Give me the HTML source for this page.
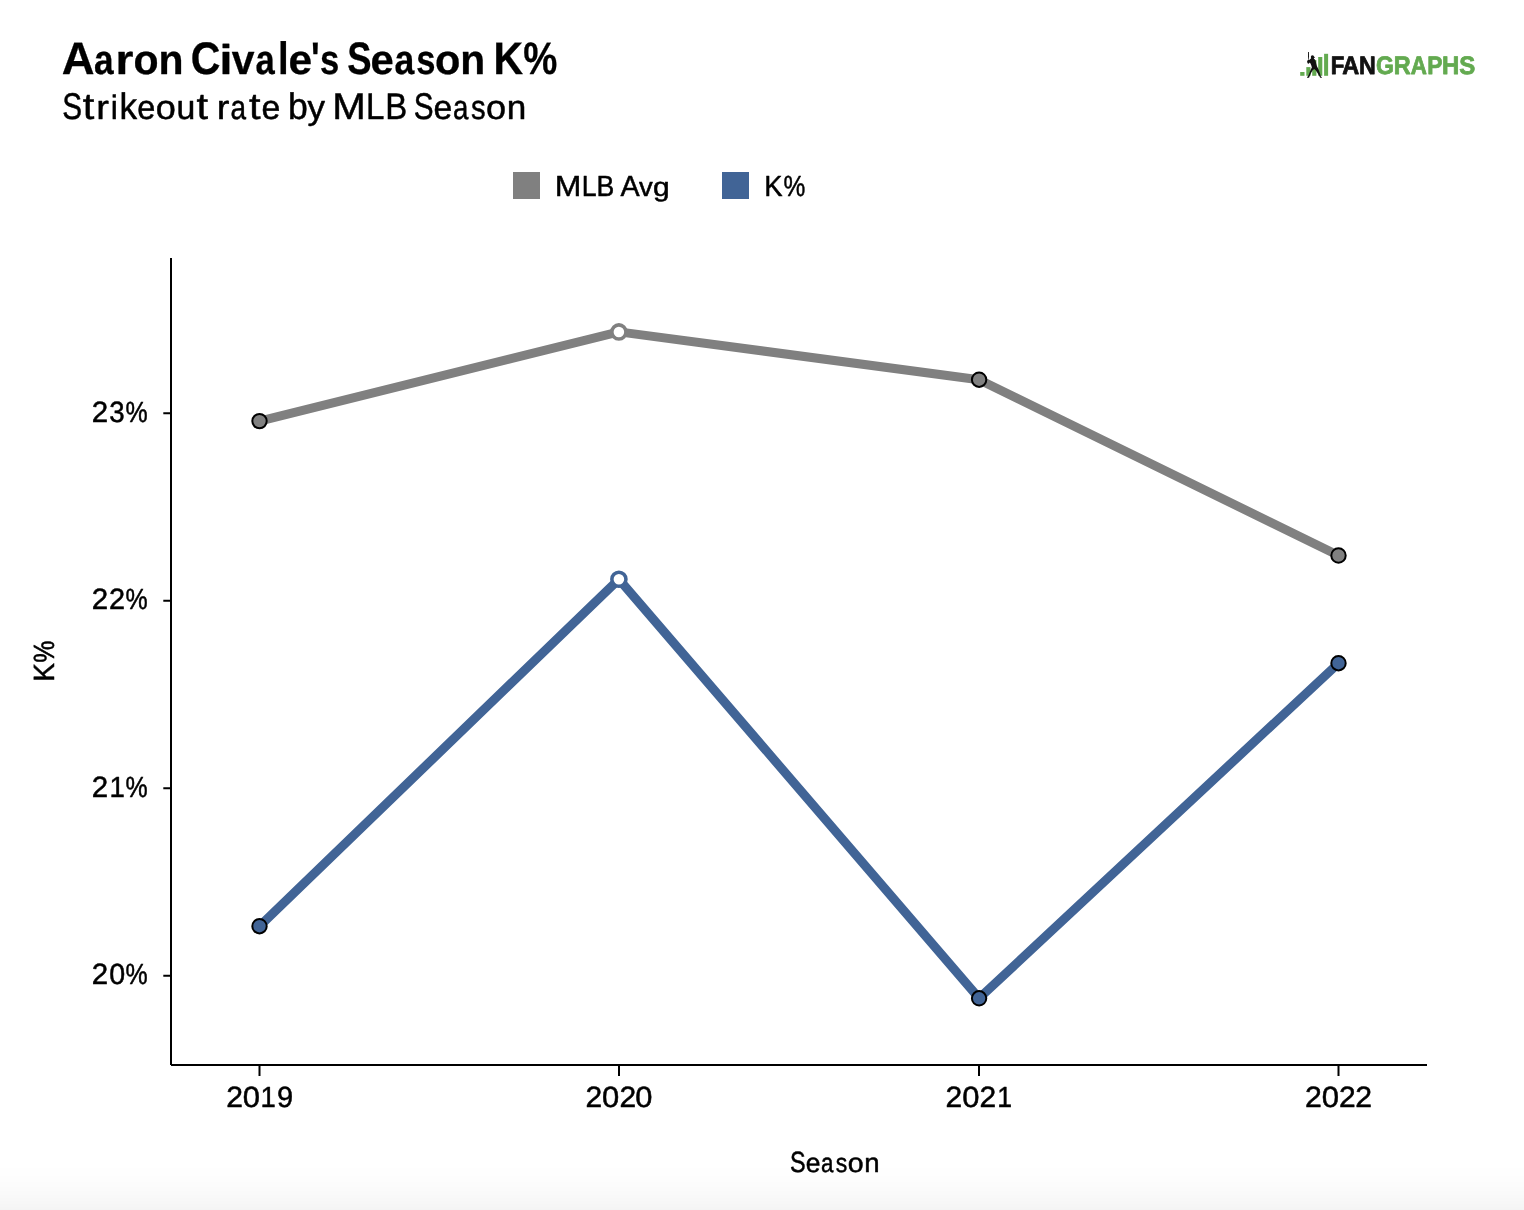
<!DOCTYPE html>
<html lang="en">
<head>
<meta charset="utf-8">
<title>Aaron Civale's Season K%</title>
<style>
  html, body { margin: 0; padding: 0; background: #fff; }
  body { width: 1524px; height: 1210px; overflow: hidden; position: relative;
         font-family: "Liberation Sans", sans-serif; }
  svg { position: absolute; left: 0; top: 0; display: block; }
  text { font-family: "Liberation Sans", sans-serif; text-rendering: geometricPrecision;
         fill: #000; stroke: #000; stroke-width: 0.5px; stroke-linejoin: round; }
  .b { font-weight: bold; stroke-width: 0.3px; }
  .lg { font-weight: bold; stroke-width: 0.8px; }
  .fade { position: absolute; left: 0; top: 1160px; width: 1524px; height: 50px;
          background: linear-gradient(to bottom, #ffffff 0px 8px, #fefefe 8px 16px, #fdfdfd 16px 22px, #fcfcfc 22px 27px, #fbfbfb 27px 31px, #fafafa 31px 35px, #f9f9f9 35px 38px, #f8f8f8 38px 41px, #f7f7f7 41px 44px, #f6f6f6 44px 47px, #f5f5f5 47px 49px, #f4f4f4 49px 50px); }
</style>
</head>
<body>
<div class="fade"></div>
<svg width="1524" height="1210" viewBox="0 0 1524 1210">
  <!-- titles -->
  <text id="title" class="b" y="74" font-size="45.5"><tspan x="61.64" textLength="32.80" lengthAdjust="spacingAndGlyphs">A</tspan><tspan x="94.10" font-size="41.63" textLength="19.60" lengthAdjust="spacingAndGlyphs">a</tspan><tspan x="115.60" font-size="41.63" textLength="17.94" lengthAdjust="spacingAndGlyphs">r</tspan><tspan x="133.49" font-size="41.63" textLength="25.10" lengthAdjust="spacingAndGlyphs">o</tspan><tspan x="158.40" font-size="41.63" textLength="25.05" lengthAdjust="spacingAndGlyphs">n</tspan> <tspan x="190.71" textLength="29.69" lengthAdjust="spacingAndGlyphs">C</tspan><tspan x="219.46" font-size="41.63" textLength="12.95" lengthAdjust="spacingAndGlyphs">i</tspan><tspan x="231.87" font-size="41.63" textLength="22.73" lengthAdjust="spacingAndGlyphs">v</tspan><tspan x="255.39" font-size="41.63" textLength="19.25" lengthAdjust="spacingAndGlyphs">a</tspan><tspan x="277.95" textLength="10.65" lengthAdjust="spacingAndGlyphs">l</tspan><tspan x="288.61" font-size="41.63" textLength="23.64" lengthAdjust="spacingAndGlyphs">e</tspan><tspan x="311.09" textLength="8.66" lengthAdjust="spacingAndGlyphs">'</tspan><tspan x="320.06" font-size="41.63" textLength="19.24" lengthAdjust="spacingAndGlyphs">s</tspan> <tspan x="347.13" textLength="24.28" lengthAdjust="spacingAndGlyphs">S</tspan><tspan x="370.51" font-size="41.63" textLength="23.26" lengthAdjust="spacingAndGlyphs">e</tspan><tspan x="394.39" font-size="41.63" textLength="19.84" lengthAdjust="spacingAndGlyphs">a</tspan><tspan x="416.16" font-size="41.63" textLength="19.23" lengthAdjust="spacingAndGlyphs">s</tspan><tspan x="434.99" font-size="41.63" textLength="25.36" lengthAdjust="spacingAndGlyphs">o</tspan><tspan x="460.20" font-size="41.63" textLength="24.94" lengthAdjust="spacingAndGlyphs">n</tspan> <tspan x="493.40" textLength="29.63" lengthAdjust="spacingAndGlyphs">K</tspan><tspan x="523.30" textLength="34.12" lengthAdjust="spacingAndGlyphs">%</tspan></text>
  <text id="subtitle" y="118.55" font-size="37.1"><tspan x="62.32" textLength="19.80" lengthAdjust="spacingAndGlyphs">S</tspan><tspan x="82.68" textLength="11.55" lengthAdjust="spacingAndGlyphs">t</tspan><tspan x="96.18" font-size="33.95" textLength="12.66" lengthAdjust="spacingAndGlyphs">r</tspan><tspan x="110.81" font-size="33.95" textLength="7.11" lengthAdjust="spacingAndGlyphs">i</tspan><tspan x="119.38" textLength="17.58" lengthAdjust="spacingAndGlyphs">k</tspan><tspan x="137.31" font-size="33.95" textLength="18.07" lengthAdjust="spacingAndGlyphs">e</tspan><tspan x="155.69" font-size="33.95" textLength="20.06" lengthAdjust="spacingAndGlyphs">o</tspan><tspan x="176.42" font-size="33.95" textLength="18.81" lengthAdjust="spacingAndGlyphs">u</tspan><tspan x="196.48" textLength="11.55" lengthAdjust="spacingAndGlyphs">t</tspan> <tspan x="216.72" font-size="33.95" textLength="12.66" lengthAdjust="spacingAndGlyphs">r</tspan><tspan x="230.47" font-size="33.95" textLength="15.53" lengthAdjust="spacingAndGlyphs">a</tspan><tspan x="249.09" textLength="11.55" lengthAdjust="spacingAndGlyphs">t</tspan><tspan x="261.46" font-size="33.95" textLength="18.80" lengthAdjust="spacingAndGlyphs">e</tspan> <tspan x="287.96" textLength="19.80" lengthAdjust="spacingAndGlyphs">b</tspan><tspan x="307.56" font-size="33.95" textLength="17.46" lengthAdjust="spacingAndGlyphs">y</tspan> <tspan x="332.22" textLength="33.49" lengthAdjust="spacingAndGlyphs">M</tspan><tspan x="365.95" textLength="18.40" lengthAdjust="spacingAndGlyphs">L</tspan><tspan x="385.36" textLength="21.95" lengthAdjust="spacingAndGlyphs">B</tspan> <tspan x="413.76" textLength="19.80" lengthAdjust="spacingAndGlyphs">S</tspan><tspan x="433.54" font-size="33.95" textLength="18.72" lengthAdjust="spacingAndGlyphs">e</tspan><tspan x="452.95" font-size="33.95" textLength="15.35" lengthAdjust="spacingAndGlyphs">a</tspan><tspan x="470.92" font-size="33.95" textLength="14.62" lengthAdjust="spacingAndGlyphs">s</tspan><tspan x="486.04" font-size="33.95" textLength="20.08" lengthAdjust="spacingAndGlyphs">o</tspan><tspan x="506.75" font-size="33.95" textLength="19.52" lengthAdjust="spacingAndGlyphs">n</tspan></text>

  <!-- logo -->
  <g id="logo">
    <rect x="1300.2" y="72" width="4.3" height="3.8" fill="#63aa50"/>
    <rect x="1306.3" y="67.1" width="4.2" height="8.7" fill="#63aa50"/>
    <rect x="1312.2" y="60.1" width="4.2" height="15.7" fill="#63aa50"/>
    <rect x="1318.2" y="57" width="4.1" height="18.8" fill="#63aa50"/>
    <rect x="1324.1" y="53.8" width="4" height="22" fill="#63aa50"/>
    <g transform="translate(1296 48) scale(0.028105)" fill="#111">
      <path d="M428,140 L458,140 L462,300 L453,420 L433,420 L428,300 Z"/>
      <circle cx="585" cy="316" r="58"/>
      <path d="M620,295 L678,325 L662,348 L620,348 Z"/>
      <path d="M545,340 L635,340 L640,400 L530,400 Z"/>
      <path d="M530,370 L500,400 L470,430 L440,420 L400,450 L395,500 L420,555 L450,560 L490,520 L520,560 L545,620 L565,690 L540,740 L500,830 L460,930 L430,1000 L390,1045 L395,1060 L465,1058 L480,1010 L540,880 L600,780 L650,745 L700,790 L770,900 L830,1000 L855,1050 L870,1062 L925,1058 L920,1040 L885,1010 L850,900 L800,760 L745,650 L720,560 L700,470 L680,420 L640,380 Z"/>
    </g>
    <text id="logotext" class="lg" y="73.6" font-size="25.3"><tspan style="fill:#111;stroke:#111"><tspan x="1330.65" textLength="13.61" lengthAdjust="spacingAndGlyphs">F</tspan><tspan x="1342.13" textLength="16.95" lengthAdjust="spacingAndGlyphs">A</tspan><tspan x="1359.10" textLength="16.82" lengthAdjust="spacingAndGlyphs">N</tspan></tspan><tspan style="fill:#63aa50;stroke:#63aa50"><tspan x="1375.98" textLength="17.95" lengthAdjust="spacingAndGlyphs">G</tspan><tspan x="1393.79" textLength="16.96" lengthAdjust="spacingAndGlyphs">R</tspan><tspan x="1410.84" textLength="16.14" lengthAdjust="spacingAndGlyphs">A</tspan><tspan x="1427.13" textLength="15.17" lengthAdjust="spacingAndGlyphs">P</tspan><tspan x="1441.97" textLength="17.29" lengthAdjust="spacingAndGlyphs">H</tspan><tspan x="1459.21" textLength="16.03" lengthAdjust="spacingAndGlyphs">S</tspan></tspan></text>
  </g>

  <!-- legend -->
  <rect x="513" y="172" width="27" height="27" fill="#808080"/>
  <text id="leg1" y="196.25" font-size="29.25"><tspan x="554.70" textLength="26.58" lengthAdjust="spacingAndGlyphs">M</tspan><tspan x="581.70" textLength="14.86" lengthAdjust="spacingAndGlyphs">L</tspan><tspan x="596.46" textLength="17.79" lengthAdjust="spacingAndGlyphs">B</tspan> <tspan x="620.40" textLength="19.17" lengthAdjust="spacingAndGlyphs">A</tspan><tspan x="639.00" font-size="26.76" textLength="13.75" lengthAdjust="spacingAndGlyphs">v</tspan><tspan x="652.91" font-size="26.76" textLength="16.67" lengthAdjust="spacingAndGlyphs">g</tspan></text>
  <rect x="722" y="172" width="27" height="27" fill="#416496"/>
  <text id="leg2" y="196.25" font-size="29.25"><tspan x="764.29" textLength="18.31" lengthAdjust="spacingAndGlyphs">K</tspan><tspan x="783.55" textLength="21.78" lengthAdjust="spacingAndGlyphs">%</tspan></text>

  <!-- axes -->
  <g stroke="#000" stroke-width="2" fill="none">
    <path d="M171,258 V1065"/>
    <path d="M171,1065 H1427"/>
    <path d="M163.3,413.2 H171 M163.3,600.8 H171 M163.3,788.2 H171 M163.3,975.7 H171"/>
    <path d="M259.5,1065 V1076 M619,1065 V1076 M979,1065 V1076 M1338.5,1065 V1076"/>
  </g>
  <g id="yticks" font-size="29.25">
    <text y="422.3"><tspan x="91.67" textLength="16.41" lengthAdjust="spacingAndGlyphs">2</tspan><tspan x="109.37" textLength="15.39" lengthAdjust="spacingAndGlyphs">3</tspan><tspan x="125.38" textLength="22.16" lengthAdjust="spacingAndGlyphs">%</tspan></text>
    <text y="609.4"><tspan x="91.67" textLength="16.41" lengthAdjust="spacingAndGlyphs">2</tspan><tspan x="108.96" textLength="16.09" lengthAdjust="spacingAndGlyphs">2</tspan><tspan x="125.38" textLength="22.16" lengthAdjust="spacingAndGlyphs">%</tspan></text>
    <text y="797.3"><tspan x="91.67" textLength="16.41" lengthAdjust="spacingAndGlyphs">2</tspan><tspan x="109.51" textLength="15.37" lengthAdjust="spacingAndGlyphs">1</tspan><tspan x="125.38" textLength="22.16" lengthAdjust="spacingAndGlyphs">%</tspan></text>
    <text y="984.4"><tspan x="91.67" textLength="16.41" lengthAdjust="spacingAndGlyphs">2</tspan><tspan x="109.34" textLength="15.93" lengthAdjust="spacingAndGlyphs">0</tspan><tspan x="125.38" textLength="22.16" lengthAdjust="spacingAndGlyphs">%</tspan></text>
  </g>
  <g id="xticks" font-size="29.25">
    <text y="1106.85"><tspan x="226.15" textLength="16.75" lengthAdjust="spacingAndGlyphs">2</tspan><tspan x="242.72" textLength="17.22" lengthAdjust="spacingAndGlyphs">0</tspan><tspan x="260.47" textLength="15.31" lengthAdjust="spacingAndGlyphs">1</tspan><tspan x="276.98" textLength="16.15" lengthAdjust="spacingAndGlyphs">9</tspan></text>
    <text y="1106.85"><tspan x="585.52" textLength="16.68" lengthAdjust="spacingAndGlyphs">2</tspan><tspan x="602.07" textLength="17.22" lengthAdjust="spacingAndGlyphs">0</tspan><tspan x="619.42" textLength="16.68" lengthAdjust="spacingAndGlyphs">2</tspan><tspan x="635.28" textLength="17.17" lengthAdjust="spacingAndGlyphs">0</tspan></text>
    <text y="1106.85"><tspan x="945.62" textLength="16.68" lengthAdjust="spacingAndGlyphs">2</tspan><tspan x="962.17" textLength="17.22" lengthAdjust="spacingAndGlyphs">0</tspan><tspan x="979.52" textLength="16.68" lengthAdjust="spacingAndGlyphs">2</tspan><tspan x="997.18" textLength="14.81" lengthAdjust="spacingAndGlyphs">1</tspan></text>
    <text y="1106.85"><tspan x="1305.11" textLength="16.80" lengthAdjust="spacingAndGlyphs">2</tspan><tspan x="1321.67" textLength="17.28" lengthAdjust="spacingAndGlyphs">0</tspan><tspan x="1338.92" textLength="16.68" lengthAdjust="spacingAndGlyphs">2</tspan><tspan x="1355.31" textLength="16.80" lengthAdjust="spacingAndGlyphs">2</tspan></text>
  </g>
  <text id="ylab" font-size="29.25" transform="translate(54.1 679.9) rotate(-90)" y="0"><tspan x="-1.94" textLength="18.73" lengthAdjust="spacingAndGlyphs">K</tspan><tspan x="17.13" textLength="22.22" lengthAdjust="spacingAndGlyphs">%</tspan></text>
  <text id="xlab" font-size="29.25" y="1172.35"><tspan x="789.94" textLength="15.61" lengthAdjust="spacingAndGlyphs">S</tspan><tspan x="805.69" font-size="26.76" textLength="14.68" lengthAdjust="spacingAndGlyphs">e</tspan><tspan x="820.97" font-size="26.76" textLength="12.43" lengthAdjust="spacingAndGlyphs">a</tspan><tspan x="835.73" font-size="26.76" textLength="11.52" lengthAdjust="spacingAndGlyphs">s</tspan><tspan x="847.87" font-size="26.76" textLength="15.87" lengthAdjust="spacingAndGlyphs">o</tspan><tspan x="864.21" font-size="26.76" textLength="15.34" lengthAdjust="spacingAndGlyphs">n</tspan></text>

  <!-- series -->
  <g fill="none" stroke-width="9" stroke-linejoin="round">
    <polyline stroke="#808080" points="259.5,421.1 618.9,331.9 979.1,379.7 1338.5,555.5"/>
    <polyline stroke="#416496" points="259.5,926.2 618.9,579.2 979.1,998.3 1338.5,663.2"/>
  </g>
  <g stroke="#000" stroke-width="2">
    <circle cx="259.5" cy="421.1" r="7.2" fill="#808080"/>
    <circle cx="979.1" cy="379.7" r="7.2" fill="#808080"/>
    <circle cx="1338.5" cy="555.5" r="7.2" fill="#808080"/>
    <circle cx="259.5" cy="926.2" r="7.2" fill="#416496"/>
    <circle cx="979.1" cy="998.3" r="7.2" fill="#416496"/>
    <circle cx="1338.5" cy="663.2" r="7.2" fill="#416496"/>
  </g>
  <circle cx="618.9" cy="331.9" r="7.05" fill="#fff" stroke="#808080" stroke-width="3.55"/>
  <circle cx="618.9" cy="579.2" r="7.05" fill="#fff" stroke="#416496" stroke-width="3.55"/>
</svg>
</body>
</html>
